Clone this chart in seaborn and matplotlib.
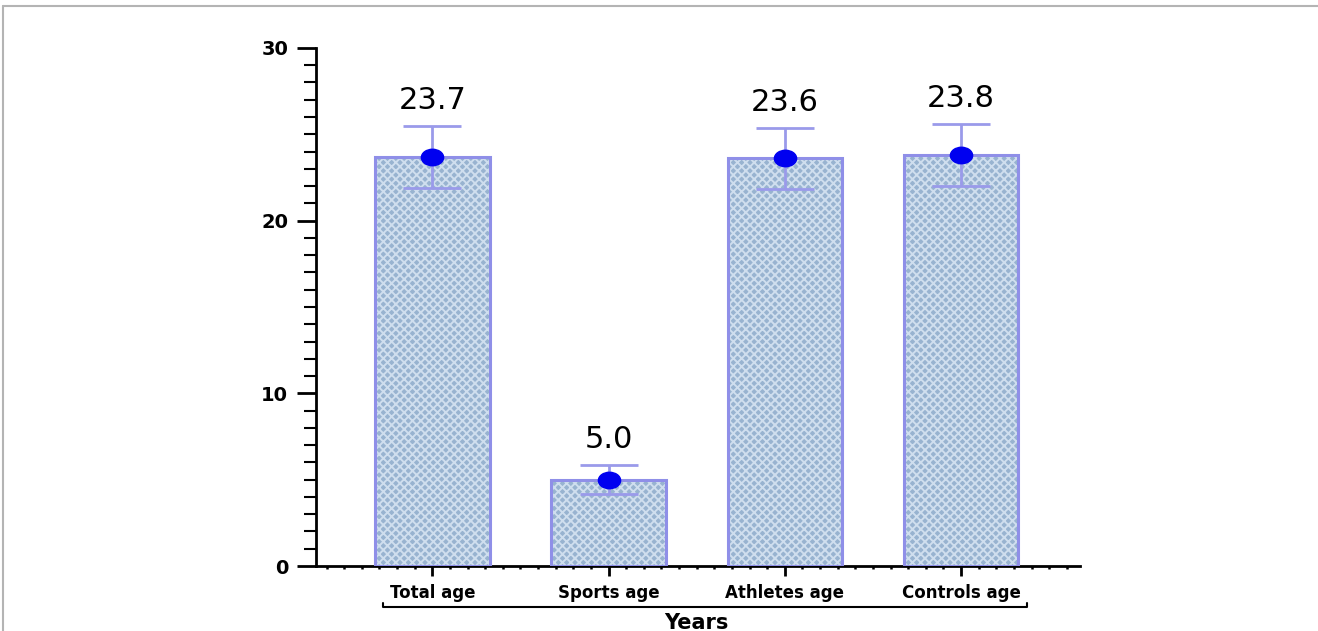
import numpy as np
import pandas as pd
import matplotlib
matplotlib.use("Agg")
import matplotlib.pyplot as plt
import seaborn as sns
from matplotlib.path import Path
from matplotlib.transforms import Affine2D, blended_transform_factory
from matplotlib.ticker import MultipleLocator
from matplotlib.lines import Line2D

# Age summary (mean and SD, years)
categories = ["Total age", "Sports age", "Athletes age", "Controls age"]
mean_years = [23.7, 5.0, 23.6, 23.8]
sd_years = [1.8, 0.85, 1.75, 1.8]
y_ticks = [0, 10, 20, 30]
x_title = "Years"

sns.set_style("ticks")
plt.rcParams["font.family"] = ["DejaVu Sans"]
plt.rcParams["hatch.linewidth"] = 1.4
plt.rcParams["text.color"] = "black"
plt.rcParams["xtick.color"] = "black"
plt.rcParams["ytick.color"] = "black"
plt.rcParams["xtick.labelcolor"] = "black"
plt.rcParams["ytick.labelcolor"] = "black"

fig = plt.figure(figsize=(13.18, 6.31), dpi=100)
ax = fig.add_axes([0.2398, 0.103, 0.5796, 0.821])

df = pd.DataFrame({"group": categories, "mean": mean_years, "sd": sd_years})
sns.barplot(data=df, x="group", y="mean", color="#98b3d0", width=0.65,
            errorbar=None, saturation=1, ax=ax, zorder=2)
# fine cross-hatch texture on the bar fill
for p in ax.patches:
    p.set_hatch("xxxx")
    p.set_edgecolor("#cfdeee")
    p.set_linewidth(0)

xpos = np.arange(len(categories))
# bar outlines
ax.bar(xpos, df["mean"], width=0.65, fill=False, edgecolor="#8f8fe8",
       linewidth=2.2, zorder=3)

# SD whiskers
ax.errorbar(xpos, df["mean"], yerr=df["sd"], fmt="none", ecolor="#9a9aea",
            elinewidth=2, capsize=21, capthick=2, zorder=4)

# mean markers (horizontal ellipse)
ellipse = Path(Affine2D().scale(1.35, 1.0).transform(Path.unit_circle().vertices),
               Path.unit_circle().codes)
ax.plot(xpos, df["mean"], ls="none", marker=ellipse, ms=16,
        color="#0000f0", zorder=5)

# value labels above the whiskers
for x, m, s in zip(xpos, df["mean"], df["sd"]):
    ax.annotate(f"{m:.1f}", (x, m + s), xytext=(0, 8), textcoords="offset points",
                ha="center", va="bottom", fontsize=22, color="black")

ax.set_xlim(-0.66, 3.675)
ax.set_ylim(0, 30)
ax.set_yticks(y_ticks)
ax.yaxis.set_minor_locator(MultipleLocator(1))
ax.xaxis.set_minor_locator(MultipleLocator(0.1))
ax.set_xlabel("")
ax.set_ylabel("")

for side in ("top", "right"):
    ax.spines[side].set_visible(False)
for side in ("left", "bottom"):
    ax.spines[side].set_linewidth(2)
    ax.spines[side].set_color("black")

ax.tick_params(axis="y", which="major", length=14, width=2, labelsize=14, pad=6)
ax.tick_params(axis="y", which="minor", length=8.5, width=1.5)
ax.tick_params(axis="x", which="major", length=7, width=2, labelsize=12, pad=6)
ax.tick_params(axis="x", which="minor", length=2.5, width=1.8)
for lab in ax.get_yticklabels() + ax.get_xticklabels():
    lab.set_fontweight("bold")
    lab.set_color("black")

# bracket spanning the categories, with axis title below
trans = blended_transform_factory(ax.transData, ax.transAxes)
ax.add_line(Line2D([-0.278, -0.278, 3.375, 3.375],
                   [-0.0714, -0.0792, -0.0792, -0.0714],
                   transform=trans, color="black", lw=1.5, clip_on=False))
ax.text(1.5, -0.110, x_title, transform=trans, ha="center", va="center",
        fontsize=15, fontweight="bold", color="black")

# thin frame lines along the top and left edges
fig.add_artist(Line2D([0.002, 0.002], [0.0, 0.9905], transform=fig.transFigure,
                      color="#b4b4b4", lw=1.5))
fig.add_artist(Line2D([0.002, 1.0], [0.9905, 0.9905], transform=fig.transFigure,
                      color="#b4b4b4", lw=1.5))

fig.savefig("out.png", dpi=100, facecolor="white")
